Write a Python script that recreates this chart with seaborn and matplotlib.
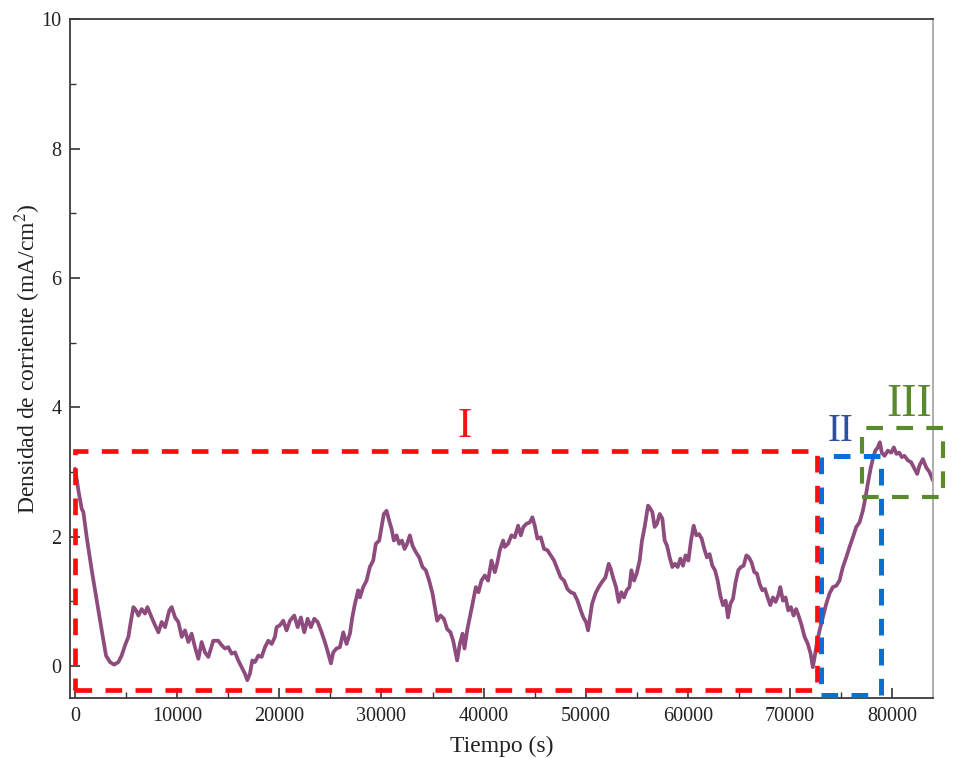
import matplotlib
matplotlib.use("Agg")
import matplotlib.pyplot as plt
from matplotlib.patches import Rectangle
from matplotlib.ticker import MultipleLocator
import pandas as pd
import seaborn as sns

# Chronoamperometric record: time (s) and current density (mA/cm2)
time_s = [
    0, 330, 650, 810, 1140, 1630, 2120, 2610, 3030, 3420, 3820, 4240, 4560, 4890,
    5220, 5450, 5710, 5970, 6200, 6520, 6850, 7080, 7500, 7830, 8160, 8480, 8810,
    9230, 9460, 9790, 10110, 10440, 10760, 11090, 11410, 11740, 12070, 12390,
    12720, 13050, 13530, 14020, 14350, 14680, 15000, 15330, 15660, 15980, 16310,
    16630, 16860, 17120, 17350, 17610, 17940, 18270, 18590, 18920, 19250, 19570,
    19730, 20060, 20380, 20710, 21040, 21460, 21790, 22110, 22440, 22770, 23090,
    23420, 23750, 24070, 24460, 24790, 25050, 25280, 25600, 25930, 26260, 26580,
    26910, 27140, 27400, 27720, 27890, 28210, 28540, 28860, 29190, 29450, 29780,
    30010, 30230, 30500, 30750, 30990, 31210, 31480, 31730, 32000, 32260, 32510,
    32780, 33040, 33370, 33690, 34020, 34340, 34670, 35000, 35230, 35450, 35780,
    36110, 36430, 36760, 37020, 37210, 37410, 37670, 37940, 38130, 38390, 38650,
    38980, 39240, 39500, 39790, 40120, 40440, 40770, 41100, 41320, 41590, 41910,
    42070, 42400, 42730, 43050, 43380, 43640, 43900, 44200, 44520, 44780, 45010,
    45270, 45600, 45920, 46250, 46580, 46900, 47230, 47550, 47880, 48210, 48530,
    48860, 49190, 49510, 49770, 50030, 50230, 50420, 50620, 50950, 51270, 51600,
    51930, 52250, 52450, 52710, 52970, 53230, 53490, 53750, 54010, 54280, 54470,
    54730, 54990, 55280, 55510, 55770, 56100, 56260, 56520, 56750, 56980, 57240,
    57500, 57730, 57960, 58220, 58480, 58740, 59000, 59270, 59520, 59780, 60050,
    60310, 60570, 60830, 61090, 61350, 61610, 61870, 62130, 62400, 62660, 62920,
    63180, 63440, 63700, 63930, 64160, 64420, 64680, 64940, 65200, 65460, 65730,
    65980, 66240, 66510, 66760, 67030, 67290, 67550, 67810, 68070, 68330, 68590,
    68850, 69050, 69310, 69570, 69830, 70090, 70350, 70600, 70770, 71100, 71430,
    71750, 72020, 72240, 72470, 72670, 72900, 73220, 73550, 73870, 74200, 74530,
    74850, 75180, 75510, 75830, 76160, 76490, 76810, 77130, 77400, 77620, 77890,
    78110, 78350, 78600, 78800, 78990, 79260, 79580, 79910, 80170, 80430, 80700,
    80950, 81210, 81540, 81870, 82190, 82460, 82680, 83010, 83340, 83660, 83990,
]
current_density = [
    3.05, 2.71, 2.43, 2.38, 1.99, 1.48, 1.01, 0.55, 0.16, 0.06, 0.02, 0.06, 0.16, 0.32,
    0.45, 0.68, 0.91, 0.86, 0.78, 0.88, 0.81, 0.91, 0.75, 0.63, 0.52, 0.68, 0.60,
    0.86, 0.91, 0.75, 0.68, 0.45, 0.55, 0.37, 0.50, 0.29, 0.11, 0.37,
    0.21, 0.14, 0.39, 0.39, 0.32, 0.27, 0.29, 0.19, 0.21, 0.085, -0.02,
    -0.12, -0.22, -0.12, 0.085, 0.06, 0.16, 0.14, 0.29, 0.39, 0.34, 0.45,
    0.60, 0.63, 0.70, 0.55, 0.70, 0.78, 0.60, 0.75, 0.52, 0.73, 0.60,
    0.73, 0.68, 0.55, 0.37, 0.19, 0.04, 0.21, 0.27, 0.29, 0.52, 0.34,
    0.50, 0.75, 0.96, 1.17, 1.06, 1.22, 1.32, 1.53, 1.63, 1.89, 1.94,
    2.15, 2.35, 2.40, 2.25, 2.12, 1.94, 2.02, 1.89, 1.94, 1.81, 1.89,
    2.02, 1.86, 1.76, 1.68, 1.53, 1.48, 1.32, 1.12, 0.91, 0.70, 0.78,
    0.73, 0.57, 0.52, 0.39, 0.24, 0.085, 0.34, 0.50, 0.27, 0.55, 0.75,
    1.01, 1.22, 1.14, 1.32, 1.40, 1.32, 1.63, 1.45, 1.58, 1.79, 1.94,
    1.84, 1.89, 2.02, 1.99, 2.17, 2.02, 2.15, 2.20, 2.22, 2.30, 2.17,
    1.97, 1.99, 1.81, 1.79, 1.71, 1.63, 1.50, 1.37, 1.32, 1.19, 1.14,
    1.12, 1.01, 0.86, 0.75, 0.68, 0.55, 0.75, 0.96, 1.12, 1.22, 1.30,
    1.37, 1.58, 1.50, 1.35, 1.22, 0.99, 1.14, 1.06, 1.17, 1.22, 1.48,
    1.32, 1.43, 1.63, 1.94, 2.15, 2.48, 2.45, 2.38, 2.15, 2.20, 2.35,
    2.28, 1.94, 1.86, 1.68, 1.53, 1.58, 1.53, 1.66, 1.55, 1.71, 1.63,
    1.94, 2.17, 2.02, 2.04, 1.97, 1.81, 1.68, 1.73, 1.55, 1.48, 1.32,
    1.09, 0.94, 1.01, 0.75, 0.96, 1.04, 1.30, 1.48, 1.53, 1.55, 1.71,
    1.68, 1.60, 1.45, 1.43, 1.27, 1.17, 1.19, 1.06, 0.94, 1.06, 0.99,
    1.09, 1.22, 1.01, 1.06, 0.86, 0.91, 0.78, 0.88, 0.81, 0.65, 0.45,
    0.34, 0.19, -0.02, 0.19, 0.39, 0.55, 0.75, 0.96, 1.12, 1.22, 1.24,
    1.32, 1.53, 1.68, 1.84, 1.99, 2.15, 2.22, 2.40, 2.61, 2.82, 3.05,
    3.20, 3.33, 3.38, 3.46, 3.30, 3.25, 3.33, 3.30, 3.38, 3.28, 3.30,
    3.23, 3.25, 3.18, 3.15, 3.05, 2.97, 3.10, 3.20, 3.07, 3.00, 2.87,
]

# Regions of the record: (t_start, t_end, j_low, j_high)
region_names = ["I", "II", "III"]
region_bounds = [
    (0, 72600, -0.37, 3.33),
    (73060, 78950, -0.456, 3.245),
    (77050, 85000, 2.62, 3.675),
]
region_colors = ["#ff0d0d", "#0a6fd2", "#5b8a2e"]
region_widths = [3.4, 3.6, 3.0]
label_colors = ["#f01515", "#2d4f9e", "#5b8a2e"]
label_anchor = [(38100, 3.54), (74900, 3.485), (81700, 3.87)]
label_sizes = [31, 28, 33]

x_ticks = [0, 10000, 20000, 30000, 40000, 50000, 60000, 70000, 80000]
y_ticks = [0, 2, 4, 6, 8, 10]

sns.set_theme(style="ticks")
plt.rcParams["font.family"] = ["Liberation Serif", "DejaVu Serif"]
plt.rcParams["mathtext.fontset"] = "stix"

fig = plt.figure(figsize=(9.56, 7.58), dpi=100)
ax = fig.add_axes([0.0732, 0.0788, 0.9027, 0.8955])

df = pd.DataFrame({"Tiempo": time_s, "J": current_density})
sns.lineplot(data=df, x="Tiempo", y="J", ax=ax, color="#8d4b7e",
             linewidth=2.7, estimator=None, sort=False, zorder=2)

for (t0, t1, j0, j1), col, lw in zip(region_bounds, region_colors, region_widths):
    ax.add_patch(Rectangle((t0, j0), t1 - t0, j1 - j0, fill=False,
                           edgecolor=col, linewidth=lw,
                           linestyle=(0, (12.0 / lw, 9.6 / lw)),
                           clip_on=False, zorder=3))

for name, (tx, ty), col, fs in zip(region_names, label_anchor, label_colors, label_sizes):
    ax.text(tx, ty, name, color=col, fontsize=fs, ha="center", va="baseline",
            family=["Liberation Serif", "DejaVu Serif"], zorder=4)

ax.set_xlim(-500, 84000)
ax.set_ylim(-0.5, 10)
ax.set_xticks(x_ticks)
ax.set_yticks(y_ticks)
ax.xaxis.set_minor_locator(MultipleLocator(5000))
ax.yaxis.set_minor_locator(MultipleLocator(1))

ax.tick_params(which="major", direction="in", length=7, width=1.2,
               colors="#333333", labelsize=14.5, pad=6,
               top=False, right=False)
ax.tick_params(which="minor", direction="in", length=4, width=1.0,
               colors="#333333", top=False, right=False)
ax.tick_params(labelcolor="#222222")

for side in ["left", "bottom", "top"]:
    ax.spines[side].set_color("#3a3a3a")
    ax.spines[side].set_linewidth(1.3)
ax.spines["right"].set_color("#a8a8a8")
ax.spines["right"].set_linewidth(1.3)

ax.set_xlabel("Tiempo (s)", fontsize=17, labelpad=7, color="#222222")
ax.set_ylabel(r"Densidad de corriente (mA/cm$^{2}$)", fontsize=17,
              labelpad=-1, color="#222222")

fig.savefig("out.png", dpi=100)
